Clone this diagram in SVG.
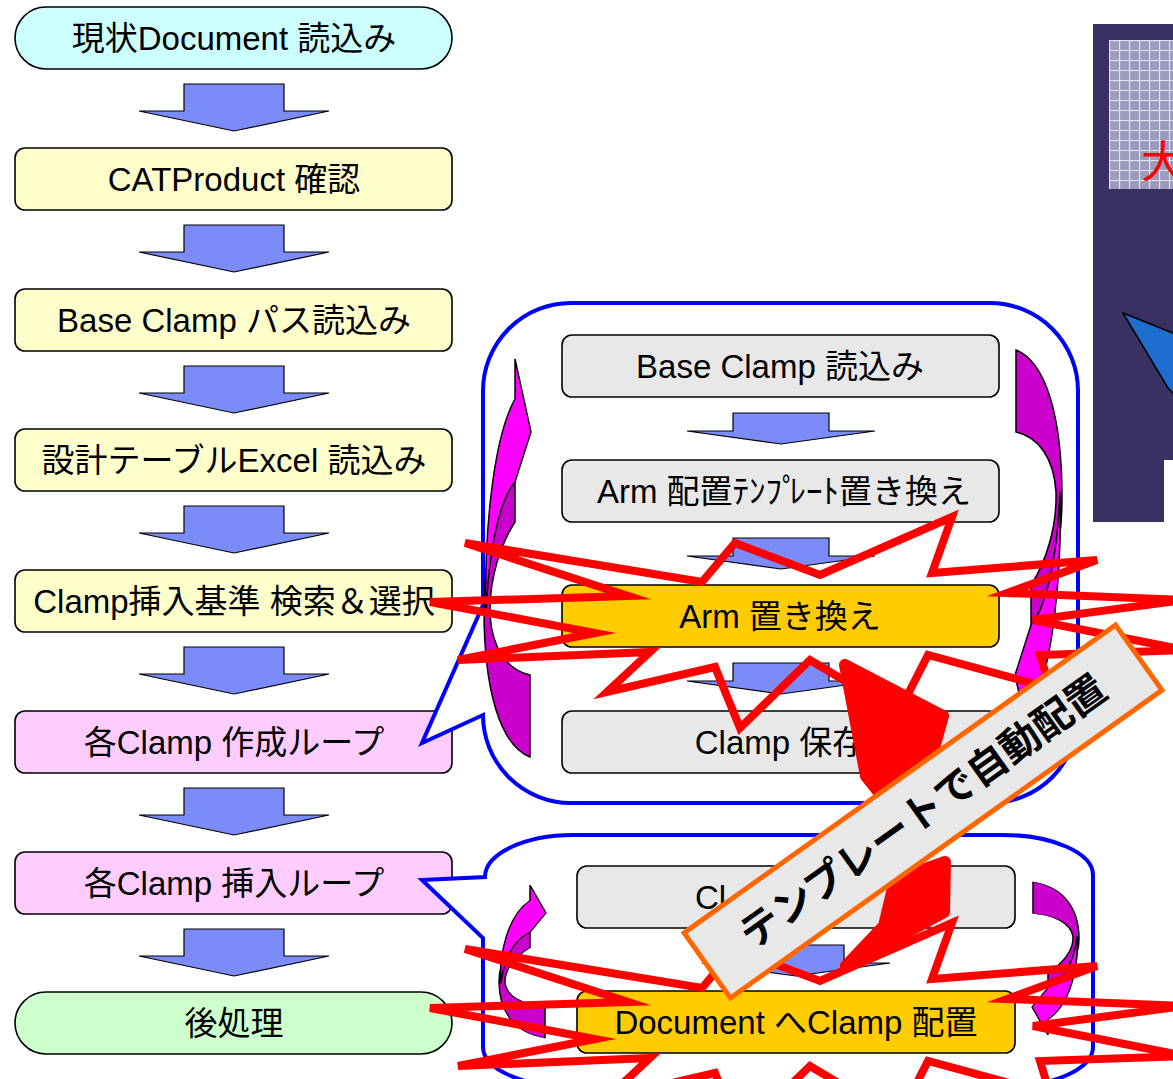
<svg xmlns="http://www.w3.org/2000/svg" width="1173" height="1079" viewBox="0 0 1173 1079">
  <defs>
    <style>
      .box { stroke: #000; stroke-width: 1.6; }
      .t { font-family: "Liberation Sans", "Noto Sans CJK JP", sans-serif; font-size: 33px; fill: #000; text-anchor: middle; }
      .call { fill: #fff; stroke: #0000FF; stroke-width: 4; stroke-linejoin: miter; }
      .gray { fill: #E8E8E8; }
      .gold { fill: #FFCC00; }
    </style>
    <path id="bigArrow" d="M-50,0H50V27H95L0,47L-95,27H-50Z" fill="#7B8CF9" stroke="#000" stroke-width="1.2"/>
    <path id="smallArrow" d="M-48,0H48V18H94L0,31L-94,18H-48Z" fill="#7B8CF9" stroke="#000" stroke-width="1.2"/>
    <!-- curved loop arrow: dark back face + light front face with head -->
    <g id="loopArrow" stroke="#000" stroke-width="1.5" stroke-linejoin="miter">
      <path fill="#CC00CC" d="M515,482 L515,522 C500,545 489,580 490,615 C492,648 507,670 530,675 L530,757 C500,745 484,690 484,610 C484,560 495,505 515,482 Z"/>
      <path fill="#FF00FF" d="M515,359 L531,432 L515,482 C500,500 489,545 486,615 C484,540 492,440 515,399 Z"/>
    </g>
    <!-- explosion outline -->
    <path id="burst" fill="none" stroke="#FF0000" stroke-width="8" stroke-linejoin="miter" stroke-miterlimit="6"
      d="M465,543 L702,582 L735,543 L820,575 L952,517 L932,573 L1097,560 L1007,593 L1185,600 L1033,620 L1185,650 L1040,655 L1050,688 L928,655 L905,700 L860,690 L810,660 L740,728 L715,667 L607,692 L650,652 L458,660 L595,633 L430,602 L628,596 Z"/>
    <pattern id="grid" width="10" height="10" patternUnits="userSpaceOnUse" x="1109" y="40">
      <rect width="10" height="10" fill="#9C9CBC"/>
      <path d="M0,0.5H10M0.5,0V10" stroke="#E4E4F0" stroke-width="1.2"/>
    </pattern>
  </defs>

  <!-- main flow -->
  <g id="flow-arrows">
    <use href="#bigArrow" x="234" y="84"/>
    <use href="#bigArrow" x="234" y="225"/>
    <use href="#bigArrow" x="234" y="366"/>
    <use href="#bigArrow" x="234" y="506"/>
    <use href="#bigArrow" x="234" y="647"/>
    <use href="#bigArrow" x="234" y="788"/>
    <use href="#bigArrow" x="234" y="929"/>
  </g>

  <g id="n-load-doc">
    <rect class="box" x="15" y="7" width="437" height="62" rx="31" fill="#CCFFFF"/>
    <text class="t" x="234" y="50">現状Document 読込み</text>
  </g>
  <g id="n-catproduct">
    <rect class="box" x="15" y="148" width="437" height="62" rx="10" fill="#FFFFCC"/>
    <text class="t" x="234" y="191">CATProduct 確認</text>
  </g>
  <g id="n-base-path">
    <rect class="box" x="15" y="289" width="437" height="62" rx="10" fill="#FFFFCC"/>
    <text class="t" x="234" y="332">Base Clamp パス読込み</text>
  </g>
  <g id="n-excel">
    <rect class="box" x="15" y="429" width="437" height="62" rx="10" fill="#FFFFCC"/>
    <text class="t" x="234" y="472">設計テーブルExcel 読込み</text>
  </g>
  <g id="n-search">
    <rect class="box" x="15" y="570" width="437" height="62" rx="10" fill="#FFFFCC"/>
    <text class="t" x="234" y="613">Clamp挿入基準 検索＆選択</text>
  </g>
  <g id="n-create-loop">
    <rect class="box" x="15" y="711" width="437" height="62" rx="10" fill="#FFCCFF"/>
    <text class="t" x="234" y="754">各Clamp 作成ループ</text>
  </g>
  <g id="n-insert-loop">
    <rect class="box" x="15" y="852" width="437" height="62" rx="10" fill="#FFCCFF"/>
    <text class="t" x="234" y="895">各Clamp 挿入ループ</text>
  </g>
  <g id="n-post">
    <rect class="box" x="15" y="992" width="437" height="62" rx="31" fill="#CCFFCC"/>
    <text class="t" x="234" y="1035">後処理</text>
  </g>

  <!-- detail callouts -->
  <g id="loop-create">
    <path class="call" d="M571,303 H990 A88,88 0 0 1 1078,391 V715 A88,88 0 0 1 990,803 H571 A88,88 0 0 1 483,715 L422,743 L483,605 V391 A88,88 0 0 1 571,303 Z"/>
    <g id="n-base-read">
      <rect class="box gray" x="562" y="335" width="437" height="62" rx="10"/>
      <text class="t" x="780" y="378">Base Clamp 読込み</text>
    </g>
    <g id="n-arm-template">
      <rect class="box gray" x="562" y="460" width="437" height="62" rx="10"/>
      <text class="t" x="784" y="503">Arm 配置ﾃﾝﾌﾟ<tspan dx="-9">ﾚｰﾄ置き換え</tspan></text>
    </g>
    <g id="n-arm-replace">
      <rect class="box gold" x="562" y="585" width="437" height="62" rx="10"/>
      <text class="t" x="780" y="628">Arm 置き換え</text>
    </g>
    <g id="n-clamp-save">
      <rect class="box gray" x="562" y="711" width="437" height="62" rx="10"/>
      <text class="t" x="780" y="754">Clamp 保存</text>
    </g>
    <use href="#loopArrow"/>
    <use href="#loopArrow" transform="translate(1546,1107) rotate(180)"/>
  </g>

  <g id="loop-insert">
    <path class="call" d="M573,835 H1003 A90,40 0 0 1 1093,875 V1047 A90,40 0 0 1 1003,1087 H573 A90,40 0 0 1 483,1047 V938 L422,880 L485,877 A88,42 0 0 1 573,835 Z"/>
    <g id="n-clamp-read">
      <rect class="box gray" x="577" y="866" width="438" height="62" rx="10"/>
      <text class="t" x="695" y="909" style="text-anchor:start">Cl</text>
    </g>
    <g id="n-doc-place">
      <rect class="box gold" x="577" y="991" width="438" height="62" rx="10"/>
      <text class="t" x="796" y="1034">Document へClamp 配置</text>
    </g>
    <use href="#loopArrow" transform="translate(500,885) scale(1,0.3844) translate(-485,-359)"/>
    <use href="#loopArrow" transform="translate(1578,1920) rotate(180) translate(500,885) scale(1,0.3844) translate(-485,-359)"/>
  </g>

  <g id="connectors">
    <use href="#smallArrow" x="781" y="413"/>
    <use href="#smallArrow" x="781" y="538"/>
    <use href="#smallArrow" x="781" y="663"/>
    <use href="#smallArrow" x="796" y="945"/>
  </g>

  <!-- screen capture panel -->
  <g id="panel">
    <rect x="1093" y="24" width="90" height="498" fill="#393161"/>
    <rect x="1109" y="40" width="80" height="149" fill="url(#grid)"/>
    <text x="1141" y="178" font-family="Noto Sans CJK JP, sans-serif" font-size="44" fill="#FF0000">大</text>
    <path d="M1123,313 L1180,336 L1180,400 L1168,388 Z" fill="#1E6ED0" stroke="#000" stroke-width="1.5"/>
    <rect x="1164" y="460" width="20" height="62" fill="#fff"/>
  </g>

  <!-- highlights -->
  <g id="bursts">
    <use href="#burst"/>
    <use href="#burst" y="406"/>
  </g>
  <g id="bolt" fill="#FF0000" stroke="#FF0000" stroke-width="12" stroke-linejoin="round">
    <path d="M845,665 L943,716 L925,780 L885,800 L866,776 Z"/>
    <path d="M846,966 L884,926 L895,880 L945,862 L944,912 Z"/>
  </g>

  <g id="banner" transform="translate(923,811.5) rotate(-35.5)">
    <rect x="-265" y="-40" width="530" height="80" fill="#E8E8E8" stroke="#FF6600" stroke-width="5"/>
    <text x="0" y="14" font-family="Noto Sans CJK JP, sans-serif" font-weight="bold" font-size="40" text-anchor="middle" fill="#000">テンプレートで自動配置</text>
  </g>
</svg>
